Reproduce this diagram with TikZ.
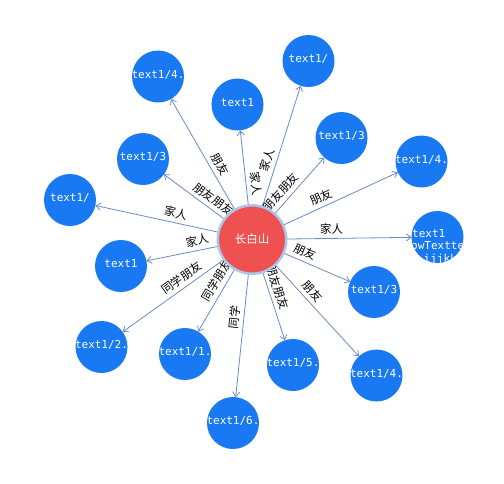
\documentclass[tikz,border=0pt]{standalone}
\usepackage{fontspec}
\newfontfamily\cjk{Noto Sans CJK SC}
\newfontfamily\mono{DejaVu Sans Mono}
\usetikzlibrary{arrows.meta}
\definecolor{nodeblue}{RGB}{24,121,242}
\definecolor{nodered}{RGB}{239,80,80}
\definecolor{ringc}{RGB}{170,198,236}
\definecolor{edgec}{RGB}{105,138,198}
\begin{document}
\begin{tikzpicture}[x=1pt,y=-1pt,
  leaf/.style={circle, fill=nodeblue, minimum size=52pt, inner sep=0pt, outer sep=0pt},
  leaftext/.style={path picture={\node[anchor=base, inner sep=0pt, text=white, font=\mono\fontsize{11}{12}\selectfont] at ([yshift=-1.5pt]path picture bounding box.center) {#1};}},
  linetext/.style={anchor=base west, inner sep=0pt, text=white, font=\mono\fontsize{11}{12}\selectfont},
  edge/.style={draw=edgec, line width=0.8pt, -{Straight Barb[length=4.5pt,width=7pt]}},
  lab/.style={font=\cjk\fontsize{11.5}{12}\selectfont, text=black, inner sep=4pt, sloped, above, pos=0.5},
  hub/.style={circle, fill=nodered, draw=ringc, line width=2.5pt, minimum size=68.4pt, inner sep=0pt, font=\cjk\fontsize{11.5}{12}\selectfont, text=white}
]
\useasboundingbox (0,0) rectangle (504,483);

\coordinate (c) at (252,239.5);

\node[leaf, leaftext={text1/4.}] (a) at (158,76.5) {};
\node[leaf, leaftext={text1}] (b) at (237.5,104.5) {};
\node[leaf, leaftext={text1/}] (t) at (308.5,61) {};
\node[leaf, leaftext={text1/3}] (d) at (341.5,138) {};
\node[leaf, leaftext={text1/4.}] (e) at (421.5,161.5) {};
\node[leaf, leaftext={text1/3}] (f) at (143,159) {};
\node[leaf, leaftext={text1/}] (g) at (70,200) {};
\node[leaf, leaftext={text1}] (h) at (121,266) {};
\node[leaf] (i) at (437.5,237) {};
\begin{scope}
  \clip (437.5,237) circle (26pt);
  \node[linetext] (i1) at (412,237.8) {text1};
  \node[linetext] (i2) at (411,249.8) {owTextte};
  \node[linetext] (i3) at (423.5,262) {ijjkk};
\end{scope}
\node[leaf, leaftext={text1/3}] (j) at (374,292) {};
\node[leaf, leaftext={text1/4.}] (k) at (376.5,375.5) {};
\node[leaf, leaftext={text1/5.}] (l) at (293,365) {};
\node[leaf, leaftext={text1/2.}] (m) at (101.5,347) {};
\node[leaf, leaftext={text1/1.}] (n) at (185,354) {};
\node[leaf, leaftext={text1/6.}] (o) at (233,423) {};

\draw[edge] (c) -- node[lab]{朋友} (a);
\draw[edge] (c) -- node[lab]{家人} (b);
\draw[edge] (c) -- node[lab]{家人} (t);
\draw[edge] (c) -- node[lab]{朋友朋友} (d);
\draw[edge] (c) -- node[lab]{朋友} (e);
\draw[edge] (c) -- node[lab]{朋友朋友} (f);
\draw[edge] (c) -- node[lab]{家人} (g);
\draw[edge] (c) -- node[lab]{家人} (h);
\draw[edge] (c) -- node[lab]{家人} (i);
\draw[edge] (c) -- node[lab]{朋友} (j);
\draw[edge] (c) -- node[lab]{朋友} (k);
\draw[edge] (c) -- node[lab]{朋友朋友} (l);
\draw[edge] (c) -- node[lab]{同学朋友} (m);
\draw[edge] (c) -- node[lab]{同学朋友} (n);
\draw[edge] (c) -- node[lab]{同学} (o);

\node[hub] (hub) at (c) {长白山};
\end{tikzpicture}
\end{document}
